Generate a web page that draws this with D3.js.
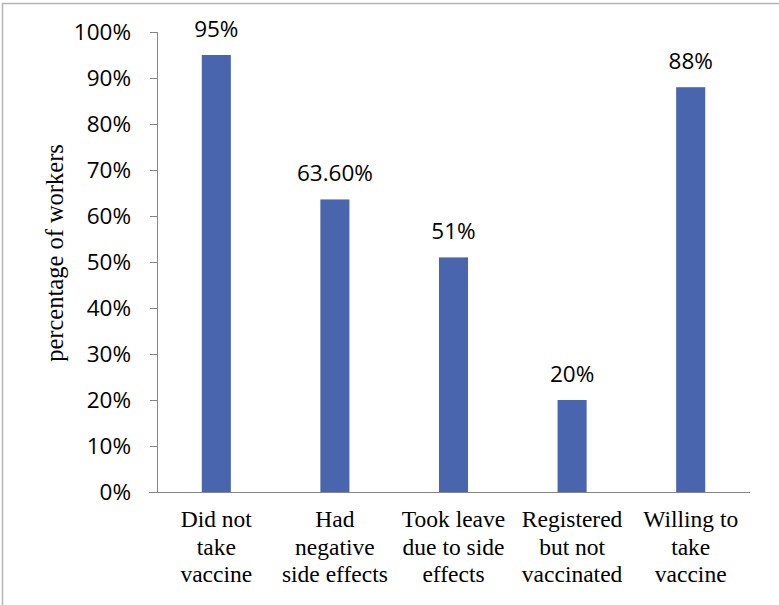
<!DOCTYPE html>
<html>
<head>
<meta charset="utf-8">
<script src="https://cdn.jsdelivr.net/npm/d3@7"></script>
<style>
  html, body { margin: 0; padding: 0; background: #fff; }
  svg { display: block; }
</style>
</head>
<body>
<svg id="chart" width="779" height="605"></svg>
<script>
// Survey results: share of workers per response
const categories = [
  ["Did not", "take", "vaccine"],
  ["Had", "negative", "side effects"],
  ["Took leave", "due to side", "effects"],
  ["Registered", "but not", "vaccinated"],
  ["Willing to", "take", "vaccine"]
];
const values = [95, 63.6, 51, 20, 88];
const valueLabels = ["95%", "63.60%", "51%", "20%", "88%"];
const yTicks = [0, 10, 20, 30, 40, 50, 60, 70, 80, 90, 100];

const svg = d3.select("#chart");
const W = 779, H = 605;
const margin = { left: 157, right: 29, top: 32, bottom: 113 };
const plotW = W - margin.left - margin.right;
const plotH = H - margin.top - margin.bottom;
const sans = "'Open Sans', 'Noto Sans', sans-serif";
const serif = "'Liberation Serif', 'Times New Roman', serif";

// Outer frame (top and left edges visible)
svg.append("path")
  .attr("d", `M2.5,${H} L2.5,3.5 L${W},3.5`)
  .attr("fill", "none")
  .attr("stroke", "#b4b4b4")
  .attr("stroke-width", 1.5);

const g = svg.append("g").attr("transform", `translate(${margin.left},${margin.top})`);

const x = d3.scaleBand().domain(d3.range(categories.length)).range([0, plotW]).padding(0);
const y = d3.scaleLinear().domain([0, 100]).range([plotH, 0]);
const barW = x.bandwidth() * 0.245;

// Y axis
const yAxis = d3.axisLeft(y).tickValues(yTicks).tickFormat(d => d + "%").tickSize(7).tickPadding(19);
const yg = g.append("g").call(yAxis);
yg.select(".domain").attr("stroke", "#868686").attr("d", `M0.5,${plotH} V0`);
yg.selectAll(".tick line").attr("stroke", "#868686");
yg.selectAll(".tick text")
  .attr("font-family", sans)
  .attr("font-size", 22.5)
  .attr("fill", "#000");

// X axis baseline
g.append("line")
  .attr("x1", -8).attr("x2", plotW)
  .attr("y1", plotH + 0.5).attr("y2", plotH + 0.5)
  .attr("stroke", "#868686");

// Bars
g.selectAll("rect.bar")
  .data(values)
  .join("rect")
  .attr("class", "bar")
  .attr("x", (d, i) => x(i) + x.bandwidth() / 2 - barW / 2)
  .attr("width", barW)
  .attr("y", d => y(d))
  .attr("height", d => plotH - y(d))
  .attr("fill", "#4965ae");

// Value labels
g.selectAll("text.val")
  .data(values)
  .join("text")
  .attr("class", "val")
  .attr("x", (d, i) => x(i) + x.bandwidth() / 2)
  .attr("y", d => y(d) - 18.5)
  .attr("text-anchor", "middle")
  .attr("font-family", sans)
  .attr("font-size", 22.5)
  .attr("fill", "#000")
  .text((d, i) => valueLabels[i]);

// Category labels
const cat = g.selectAll("text.cat")
  .data(categories)
  .join("text")
  .attr("class", "cat")
  .attr("text-anchor", "middle")
  .attr("font-family", serif)
  .attr("font-size", 23.5)
  .attr("fill", "#000")
  .attr("transform", (d, i) => `translate(${x(i) + x.bandwidth() / 2},${plotH + 35})`);
cat.selectAll("tspan")
  .data(d => d)
  .join("tspan")
  .attr("x", 0)
  .attr("y", (d, i) => i * 27.5)
  .text(d => d);

// Y axis title
svg.append("text")
  .attr("transform", `translate(63,253) rotate(-90)`)
  .attr("text-anchor", "middle")
  .attr("font-family", serif)
  .attr("font-size", 24.5)
  .attr("fill", "#000")
  .text("percentage of workers");
</script>
</body>
</html>
